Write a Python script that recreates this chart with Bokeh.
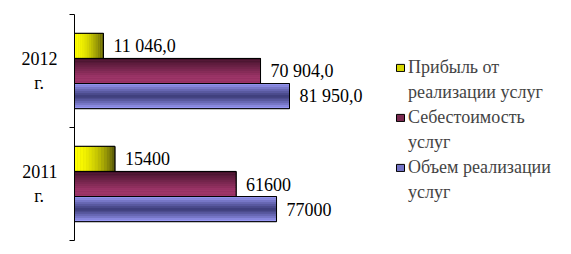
from bokeh.plotting import figure
from bokeh.models import Range1d, FixedTicker, Legend, LegendItem
from bokeh.core.properties import value
from bokeh.embed import file_html
from bokeh.resources import INLINE
import numpy as np

# ---- data ----
years = ["2011 г.", "2012 г."]
series_names = [["Прибыль от", "реализации услуг"], ["Себестоимость", "услуг"], ["Объем реализации", "услуг"]]
profit = [15400, 11046.0]
cost = [61600, 70904.0]
volume = [77000, 81950.0]
profit_labels = ["15400", "11 046,0"]
cost_labels = ["61600", "70 904,0"]
volume_labels = ["77000", "81 950,0"]

FONT = "Liberation Serif"
FS = "18px"
ypos = [0.5, 1.5]
H = 0.222
offsets = [H, 0.0, -H]

p = figure(width=571, height=254, output_backend="svg", toolbar_location=None,
           x_range=Range1d(0, 189434), y_range=Range1d(0, 2),
           min_border_left=74, min_border_right=0, min_border_top=14, min_border_bottom=14)
p.outline_line_color = None
p.xgrid.visible = False
p.ygrid.visible = False
p.xaxis.visible = False
p.background_fill_color = "white"
p.border_fill_color = "white"

yax = p.yaxis[0]
yax.ticker = FixedTicker(ticks=ypos, minor_ticks=[0, 1, 2])
yax.major_label_overrides = {0.5: "2011\nг.\u00a0\u00a0\u00a0", 1.5: "2012\nг.\u00a0\u00a0\u00a0"}
yax.major_tick_line_color = None
yax.minor_tick_in = 0
yax.minor_tick_out = 5
yax.minor_tick_line_color = "black"
yax.axis_line_color = "black"
yax.major_label_text_font = FONT
yax.major_label_text_font_size = FS
yax.major_label_text_color = "black"
yax.major_label_standoff = 11

def hexc(c):
    return tuple(int(c[i:i+2], 16) for i in (1, 3, 5))

def mix(c1, c2, t):
    a, b = np.array(hexc(c1)), np.array(hexc(c2))
    r = (a + (b - a) * t).round().astype(int)
    return "#%02x%02x%02x" % tuple(r)

N = 14
legend_items = []
specs = [
    (profit, profit_labels, "#d6d600", "h"),
    (cost, cost_labels, "#7a2950", "v_pur"),
    (volume, volume_labels, "#7373c6", "v_blue"),
]
blank = p.hbar(y=[-5], right=[0], left=0, height=0.1, fill_alpha=0, line_alpha=0)
for k, (vals, labs, base_col, kind) in enumerate(specs):
    ys = [y + offsets[k] for y in ypos]
    base = p.hbar(y=ys, right=vals, left=0, height=H, fill_color=base_col,
                  line_color="black", line_width=1)
    sy, sl, sr, sh, sc = [], [], [], [], []
    for y, v in zip(ys, vals):
        for i in range(N):
            t = (i + 0.5) / N
            if kind == "h":
                sy.append(y); sh.append(H)
                sl.append(v * i / N); sr.append(v * (i + 1) / N)
                sc.append(mix("#ffff00", "#55550a", t ** 1.8))
            else:
                sy.append(y + H / 2 - (i + 0.5) * H / N); sh.append(H / N * 1.02)
                sl.append(0); sr.append(v)
                if kind == "v_pur":
                    sc.append(mix("#3f1028", "#9d3568", min(1, t * 1.4)))
                else:
                    d = abs(t - 0.5) * 2
                    sc.append(mix("#3c3c78", "#a0a0ff", d ** 1.2))
    p.hbar(y=sy, left=sl, right=sr, height=sh, fill_color=sc, line_color=None)
    p.hbar(y=ys, right=vals, left=0, height=H, fill_alpha=0, line_color="black", line_width=1)
    p.text(x=vals, y=ys, text=labs, x_offset=10, text_baseline="middle", text_align="left",
           text_font=value(FONT), text_font_size=FS, text_color="black")
    legend_items.append(LegendItem(label=series_names[k][0], renderers=[base]))
    legend_items.append(LegendItem(label=series_names[k][1], renderers=[blank]))

leg = Legend(items=legend_items, location=(321, 37), padding=0, margin=0,
             border_line_alpha=0, background_fill_alpha=0,
             label_text_font=FONT, label_text_font_size=FS,
             label_height=20, label_text_baseline="middle",
             glyph_width=10, glyph_height=9, label_standoff=3, spacing=4)
p.add_layout(leg, "center")

open("out.html", "w").write(file_html(p, INLINE))
